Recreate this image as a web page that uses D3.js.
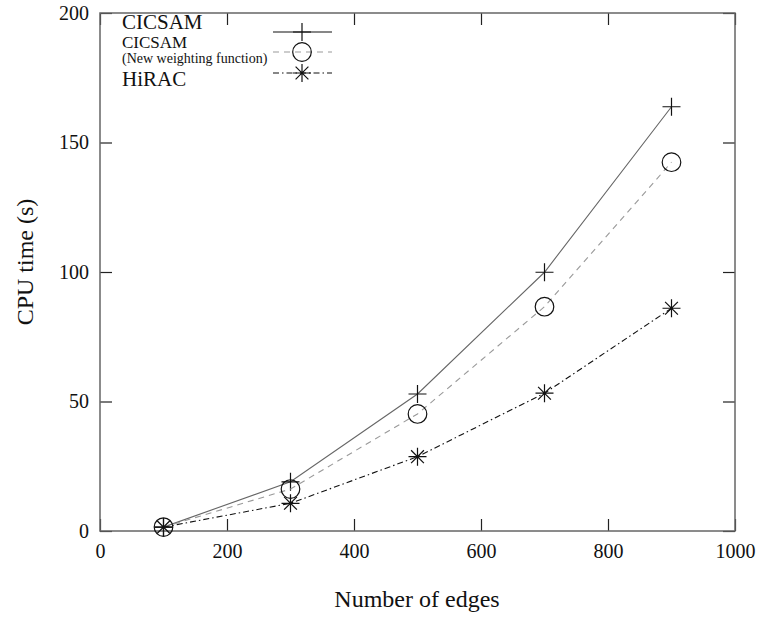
<!DOCTYPE html>
<html>
<head>
<meta charset="utf-8">
<script src="https://cdn.jsdelivr.net/npm/d3@7"></script>
<style>
  body { margin: 0; background: #fff; }
  svg text { font-family: "Liberation Serif", "DejaVu Serif", serif; fill: #111; }
  .axis path { display: none; }
  .axis line { stroke: #222; stroke-width: 1.2; }
</style>
</head>
<body>
<script>
const w = 758;
const h = 617;

// data
const edges = [100, 300, 500, 700, 900];
const cicsam = [1.5, 19.0, 52.9, 99.9, 163.8];
const cicsamNew = [1.5, 16.2, 45.2, 86.6, 142.4];
const hirac = [1.5, 10.7, 28.7, 53.2, 86.0];
const xTicks = [0, 200, 400, 600, 800, 1000];
const yTicks = [0, 50, 100, 150, 200];

const m = { t: 13, r: 23, b: 86, l: 100 };
const gw = w - m.l - m.r;
const gh = h - m.t - m.b;

const svg = d3.select("body").append("svg").attr("width", w).attr("height", h);

const xScale = d3.scaleLinear().domain([0, 1000]).range([0, gw]);
const yScale = d3.scaleLinear().domain([0, 200]).range([gh, 0]);

const g = svg.append("g").attr("transform", `translate(${m.l}, ${m.t})`);

// axes, ticks pointing inward on all four sides
const tk = 12;
const fmt = d3.format("d");
g.append("g").attr("class", "axis")
  .attr("transform", `translate(0, ${gh})`)
  .call(d3.axisBottom(xScale).tickValues(xTicks).tickSize(-tk).tickPadding(13).tickFormat(fmt))
  .selectAll("text").style("font-size", "20px");
g.append("g").attr("class", "axis")
  .call(d3.axisTop(xScale).tickValues(xTicks).tickSize(-tk).tickFormat(""));
g.append("g").attr("class", "axis")
  .call(d3.axisLeft(yScale).tickValues(yTicks).tickSize(-tk).tickPadding(11).tickFormat(fmt))
  .selectAll("text").style("font-size", "20px");
g.append("g").attr("class", "axis")
  .attr("transform", `translate(${gw}, 0)`)
  .call(d3.axisRight(yScale).tickValues(yTicks).tickSize(-tk).tickFormat(""));

// frame
g.append("rect")
  .attr("width", gw).attr("height", gh)
  .attr("fill", "none").attr("stroke", "#666").attr("stroke-width", 1.5);

// axis labels
svg.append("text")
  .attr("x", 417).attr("y", 607)
  .attr("text-anchor", "middle").style("font-size", "24px")
  .text("Number of edges");
svg.append("text")
  .attr("transform", "rotate(-90)")
  .attr("x", -262).attr("y", 33)
  .attr("text-anchor", "middle").style("font-size", "24px")
  .text("CPU time (s)");

// marker shapes
const plus = (s, x, y) => {
  s.append("path").attr("d", `M${x - 9},${y}H${x + 9}M${x},${y - 9}V${y + 9}`)
    .attr("stroke", "#111").attr("stroke-width", 1.2).attr("fill", "none");
};
const circ = (s, x, y) => {
  s.append("circle").attr("cx", x).attr("cy", y).attr("r", 9.3)
    .attr("stroke", "#111").attr("stroke-width", 1.2).attr("fill", "none");
};
const star = (s, x, y) => {
  const r = 9, d = 6.4;
  s.append("path")
    .attr("d", `M${x - r},${y}H${x + r}M${x},${y - r}V${y + r}M${x - d},${y - d}L${x + d},${y + d}M${x - d},${y + d}L${x + d},${y - d}`)
    .attr("stroke", "#111").attr("stroke-width", 1.2).attr("fill", "none");
};

const series = [
  { name: "CICSAM", vals: cicsam, stroke: "#666", dash: null, mark: plus },
  { name: "CICSAM new", vals: cicsamNew, stroke: "#999", dash: "6,5", mark: circ },
  { name: "HiRAC", vals: hirac, stroke: "#111", dash: "6,3,1.5,3", mark: star }
];

const line = d3.line().x((d) => xScale(d[0])).y((d) => yScale(d[1]));

series.forEach((s) => {
  const pts = edges.map((e, i) => [e, s.vals[i]]);
  g.append("path")
    .datum(pts)
    .attr("d", line)
    .attr("fill", "none")
    .attr("stroke", s.stroke)
    .attr("stroke-width", 1.1)
    .attr("stroke-dasharray", s.dash);
  pts.forEach((p) => s.mark(g, xScale(p[0]), yScale(p[1])));
});

// legend
const lg = svg.append("g");
const lx0 = 273, lx1 = 332, lxm = 302;
const rows = [32, 52, 73];
series.forEach((s, i) => {
  lg.append("line")
    .attr("x1", lx0).attr("x2", lx1).attr("y1", rows[i]).attr("y2", rows[i])
    .attr("stroke", i === 0 ? "#111" : s.stroke).attr("stroke-width", 1.1)
    .attr("stroke-dasharray", s.dash);
  s.mark(lg, lxm, rows[i]);
});
lg.append("text").attr("x", 122).attr("y", 29).style("font-size", "21px").text("CICSAM");
lg.append("text").attr("x", 122).attr("y", 48).style("font-size", "17px").text("CICSAM");
lg.append("text").attr("x", 122).attr("y", 63).style("font-size", "14px").text("(New weighting function)");
lg.append("text").attr("x", 122).attr("y", 86).style("font-size", "21px").text("HiRAC");
</script>
</body>
</html>
